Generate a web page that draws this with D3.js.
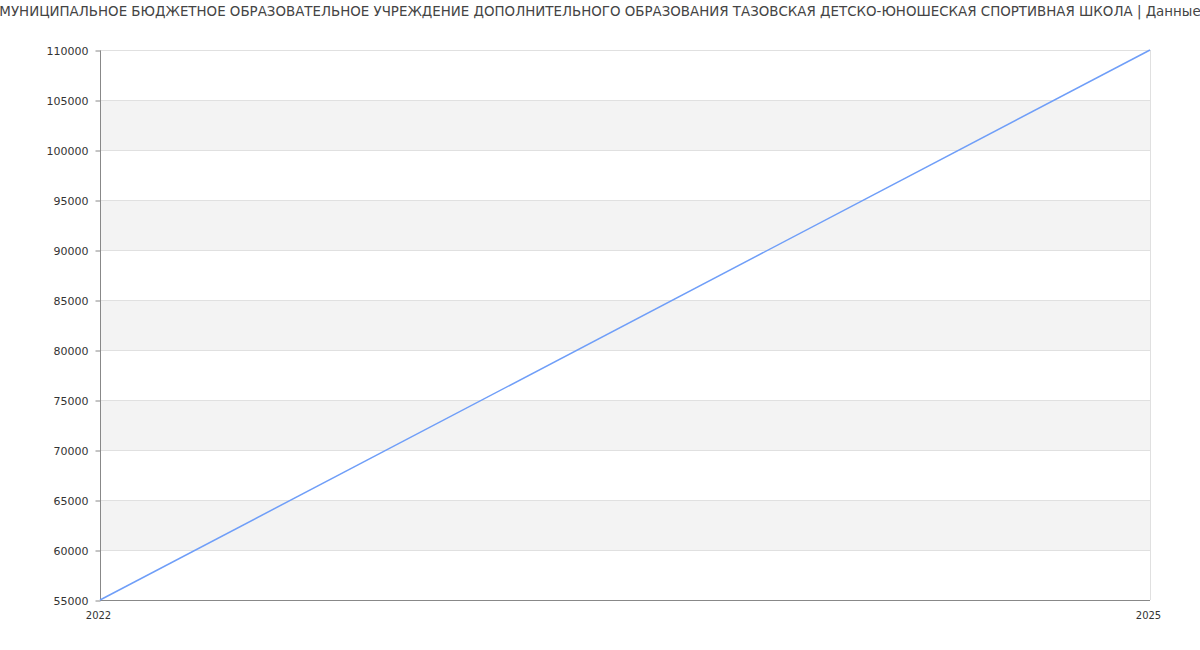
<!DOCTYPE html>
<html><head><meta charset="utf-8">
<script src="https://cdn.jsdelivr.net/npm/d3@7"></script>
<style>body{margin:0;background:#fff;}svg{display:block;font-family:"DejaVu Sans",sans-serif;}</style>
</head><body>
<svg id="c" width="1200" height="650"></svg>
<script>
const titleText = "МУНИЦИПАЛЬНОЕ БЮДЖЕТНОЕ ОБРАЗОВАТЕЛЬНОЕ УЧРЕЖДЕНИЕ ДОПОЛНИТЕЛЬНОГО ОБРАЗОВАНИЯ ТАЗОВСКАЯ ДЕТСКО-ЮНОШЕСКАЯ СПОРТИВНАЯ ШКОЛА | Данные";
const years = [2022, 2025];
const values = [55000, 110000];
const yTicks = [55000,60000,65000,70000,75000,80000,85000,90000,95000,100000,105000,110000];
const xTicks = [2022, 2025];

const svg = d3.select("#c");
const m = {l:100, r:50, t:50, b:50};
const W = 1200, H = 650;
const x = d3.scaleLinear().domain([2022, 2025]).range([m.l, W - m.r]);
const y = d3.scaleLinear().domain([55000, 110000]).range([H - m.b, m.t]);

// bands
const bands = [];
for (let i = 0; i < yTicks.length - 1; i++) if (i % 2 === 1) bands.push([yTicks[i], yTicks[i+1]]);
svg.append("g").selectAll("rect").data(bands).join("rect")
  .attr("x", m.l).attr("width", W - m.r - m.l)
  .attr("y", d => y(d[1])).attr("height", d => y(d[0]) - y(d[1]))
  .attr("fill", "#f3f3f3");

// grid
svg.append("g").selectAll("line").data(yTicks).join("line")
  .attr("x1", m.l).attr("x2", W - m.r)
  .attr("y1", d => y(d) + 0.5).attr("y2", d => y(d) + 0.5)
  .attr("stroke", "#e0e0e0");
svg.append("line").attr("x1", W - m.r + 0.5).attr("x2", W - m.r + 0.5)
  .attr("y1", m.t).attr("y2", H - m.b).attr("stroke", "#e0e0e0");

// y axis
const ya = svg.append("g").attr("transform", `translate(${m.l + 0.5},0.5)`)
  .call(d3.axisLeft(y).tickValues(yTicks).tickSize(5).tickPadding(7).tickFormat(d3.format("d")));
ya.select(".domain").attr("stroke", "#888").attr("d", `M0,${m.t}V${H - m.b}`);
ya.selectAll(".tick line").attr("stroke", "#888");
ya.selectAll("text").attr("fill", "#333").style("font-size", "11px").style("font-family", "DejaVu Sans");

// x axis
const xa = svg.append("g").attr("transform", `translate(0,${H - m.b + 0.5})`)
  .call(d3.axisBottom(x).tickValues(xTicks).tickSize(0).tickPadding(11).tickFormat(d3.format("d")));
xa.select(".domain").attr("stroke", "#888").attr("d", `M${m.l},0H${W - m.r}`);
xa.selectAll("text").attr("fill", "#333").attr("dx", -2).style("font-size", "10px").style("font-family", "DejaVu Sans");

// line
const pts = years.map((yr, i) => [yr, values[i]]);
svg.append("path").datum(pts)
  .attr("fill", "none").attr("stroke", "#6f9ef8").attr("stroke-width", 1.5)
  .attr("d", d3.line().x(d => x(d[0])).y(d => y(d[1])));

// title
svg.append("text").attr("x", W / 2).attr("y", 16).attr("text-anchor", "middle")
  .attr("fill", "#444").style("font-size", "13.4px").style("font-family", "DejaVu Sans")
  .text(titleText);
</script>
</body></html>
